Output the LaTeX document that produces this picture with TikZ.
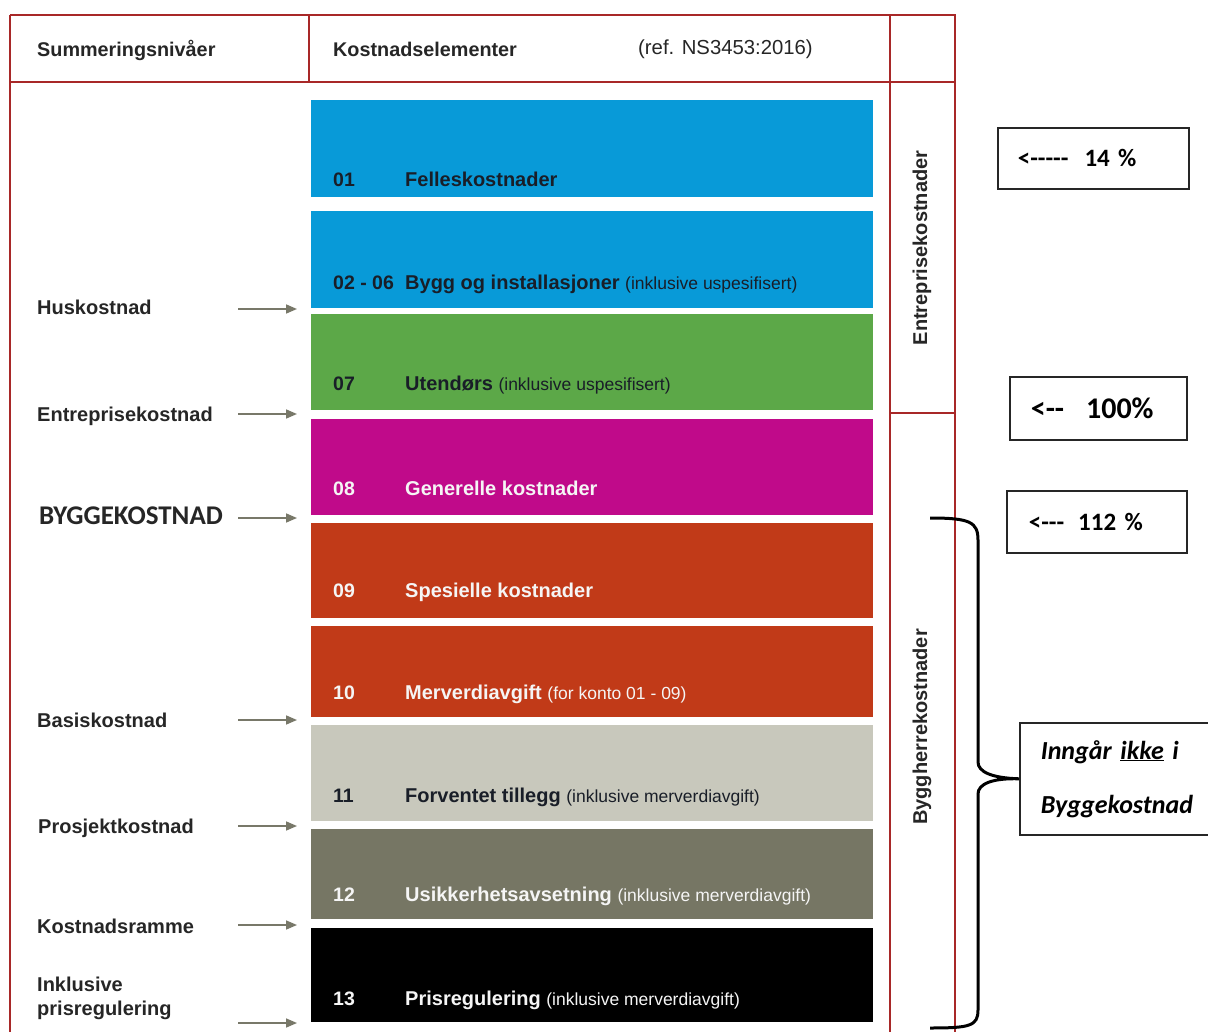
\documentclass[tikz,border=0pt]{standalone}
\usepackage{fontspec}
\setmainfont{Liberation Sans}
\newfontfamily\calf[Ligatures=TeXOff]{Carlito}
\usetikzlibrary{arrows.meta}
\definecolor{framered}{RGB}{168,40,40}
\definecolor{cblue}{RGB}{8,154,216}
\definecolor{cgreen}{RGB}{92,168,72}
\definecolor{cmag}{RGB}{192,10,138}
\definecolor{cred}{RGB}{193,58,24}
\definecolor{clgrey}{RGB}{200,200,188}
\definecolor{colive}{RGB}{118,118,100}
\definecolor{darktxt}{RGB}{25,30,40}
\definecolor{arrgrey}{RGB}{120,120,105}
\definecolor{lighttxt}{RGB}{245,245,245}
\newcommand\parentxt[1]{{\fontsize{17.5}{20}\selectfont\mdseries #1}}
\begin{document}
\begin{tikzpicture}[x=1pt,y=-1pt,
  frameline/.style={draw=framered, line width=2pt},
  bar/.style={anchor=north west, minimum width=562pt, inner sep=0pt, outer sep=0pt},
  num/.style={anchor=base west, inner sep=0pt, font=\fontsize{19.5}{22}\selectfont\bfseries},
  lbl/.style={anchor=base west, inner sep=0pt, font=\fontsize{20}{22}\selectfont\bfseries},
  leftlbl/.style={anchor=base west, inner sep=0pt, font=\fontsize{20}{24}\selectfont\bfseries, text=black!85},
  hdr/.style={anchor=base west, inner sep=0pt, font=\fontsize{19.8}{22}\selectfont\bfseries, text=black!85},
  rot/.style={rotate=90, inner sep=0pt, font=\fontsize{20}{22}\selectfont\bfseries, text=black!85},
  arr/.style={draw=arrgrey, line width=1.6pt, -{Triangle[length=11pt,width=9pt]}},
  rbox/.style={draw=black!85, line width=1.6pt, anchor=north west, align=left, inner ysep=0pt, font=\calf\bfseries\fontsize{25}{30}\selectfont},
  brace/.style={draw=black, line width=3pt}
]
\clip (0,0) rectangle (1208,1032);
\useasboundingbox (0,0) rectangle (1208,1032);
\fill[white] (0,0) rectangle (1208,1032);

% frame
\draw[frameline] (10,15) -- (956,15);
\draw[frameline] (10,82) -- (956,82);
\draw[frameline] (10,15) -- (10,1032);
\draw[frameline] (309,15) -- (309,82);
\draw[frameline] (890,15) -- (890,1032);
\draw[frameline] (955,15) -- (955,1032);
\draw[frameline] (890,413) -- (955,413);

% header
\node[hdr] (hsum) at (37,57) {Summeringsnivåer};
\node[hdr] (hkost) at (333,57) {Kostnadselementer};
\node[hdr, font=\fontsize{20.3}{22}\selectfont\mdseries] (href) at (638,55) {(ref. NS3453:2016)};

% bars
\node[bar, fill=cblue,  minimum height=97pt] (b01)  at (311,100) {};
\node[bar, fill=cblue,  minimum height=97pt] (b02)  at (311,211) {};
\node[bar, fill=cgreen, minimum height=96pt] (b07)  at (311,314) {};
\node[bar, fill=cmag,   minimum height=96pt] (b08)  at (311,419) {};
\node[bar, fill=cred,   minimum height=95pt] (b09)  at (311,523) {};
\node[bar, fill=cred,   minimum height=91pt] (b10)  at (311,626) {};
\node[bar, fill=clgrey, minimum height=96pt] (b11)  at (311,725) {};
\node[bar, fill=colive, minimum height=90pt] (b12)  at (311,829) {};
\node[bar, fill=black,  minimum height=94pt] (b13)  at (311,928) {};

% bar texts
\node[num, text=darktxt] (n01) at (333,187) {01};
\node[lbl, text=darktxt] (t01) at (405,187) {Felleskostnader};
\node[num, text=darktxt] (n02) at (333,290) {02 - 06};
\node[lbl, text=darktxt] (t02) at (405,290) {Bygg og installasjoner \parentxt{(inklusive uspesifisert)}};
\node[num, text=darktxt] (n07) at (333,391) {07};
\node[lbl, text=darktxt] (t07) at (405,391) {Utendørs \parentxt{(inklusive uspesifisert)}};
\node[num, text=lighttxt] (n08) at (333,495) {08};
\node[lbl, text=lighttxt] (t08) at (405,495) {Generelle kostnader};
\node[num, text=lighttxt] (n09) at (333,597) {09};
\node[lbl, text=lighttxt] (t09) at (405,597) {Spesielle kostnader};
\node[num, text=lighttxt] (n10) at (333,699) {10};
\node[lbl, text=lighttxt] (t10) at (405,699) {Merverdiavgift \parentxt{(for konto 01 - 09)}};
\node[num, text=darktxt] (n11) at (333,802) {11};
\node[lbl, text=darktxt] (t11) at (405,802) {Forventet tillegg \parentxt{(inklusive merverdiavgift)}};
\node[num, text=lighttxt] (n12) at (333,901) {12};
\node[lbl, text=lighttxt] (t12) at (405,901) {Usikkerhetsavsetning \parentxt{(inklusive merverdiavgift)}};
\node[num, text=lighttxt] (n13) at (333,1005) {13};
\node[lbl, text=lighttxt] (t13) at (405,1005) {Prisregulering \parentxt{(inklusive merverdiavgift)}};

% left labels
\node[leftlbl] (lhus) at (37,315) {Huskostnad};
\node[leftlbl] (lent) at (37,421) {Entreprisekostnad};
\node[leftlbl, font=\calf\bfseries\fontsize{27}{30}\selectfont] (lbyg) at (39,524) {BYGGEKOSTNAD};
\node[leftlbl] (lbas) at (37,727) {Basiskostnad};
\node[leftlbl] (lpro) at (38,833) {Prosjektkostnad};
\node[leftlbl] (lkos) at (37,933) {Kostnadsramme};
\node[leftlbl, anchor=north west, align=left] (link) at (37,977) {Inklusive\\prisregulering};

% arrows
\coordinate (a1s) at (238,309);  \coordinate (a1e) at (297,309);
\coordinate (a2s) at (238,414);  \coordinate (a2e) at (297,414);
\coordinate (a3s) at (238,518);  \coordinate (a3e) at (297,518);
\coordinate (a4s) at (238,720);  \coordinate (a4e) at (297,720);
\coordinate (a5s) at (238,826);  \coordinate (a5e) at (297,826);
\coordinate (a6s) at (238,925);  \coordinate (a6e) at (297,925);
\coordinate (a7s) at (238,1023); \coordinate (a7e) at (297,1023);
\draw[arr] (a1s) -- (a1e);
\draw[arr] (a2s) -- (a2e);
\draw[arr] (a3s) -- (a3e);
\draw[arr] (a4s) -- (a4e);
\draw[arr] (a5s) -- (a5e);
\draw[arr] (a6s) -- (a6e);
\draw[arr] (a7s) -- (a7e);

% rotated column labels
\node[rot] (rent) at (922,248) {Entreprisekostnader};
\node[rot] (rbyg) at (922,727) {Byggherrekostnader};

% right boxes
\node[rbox, inner xsep=20pt, text width=151pt, minimum height=61pt] (r14) at (997,127) {<-----\hspace{16pt}14 \%};
\node[rbox, inner xsep=21pt, text width=135pt, minimum height=63pt, font=\calf\bfseries\fontsize{30}{34}\selectfont] (r100) at (1009,376) {<--\hspace{22pt}100\%};
\node[rbox, inner xsep=22pt, text width=136pt, minimum height=62pt] (r112) at (1006,490) {<---\hspace{14pt}112 \%};
\node[rbox, inner xsep=21pt, text width=170pt, minimum height=112pt, font=\calf\bfseries\itshape\fontsize{26}{54}\selectfont] (rin) at (1019,722) {Inngår \underline{ikke} i\\Byggekostnad};

% brace
\draw[brace] (930,518) .. controls (970,518) and (978,522) .. (978,540)
  -- (978,762) .. controls (978,772) and (992,778) .. (rin.west)
  .. controls (992,778) and (978,784) .. (978,794)
  -- (978,1010) .. controls (978,1026) and (970,1028) .. (930,1028);
\end{tikzpicture}
\end{document}
